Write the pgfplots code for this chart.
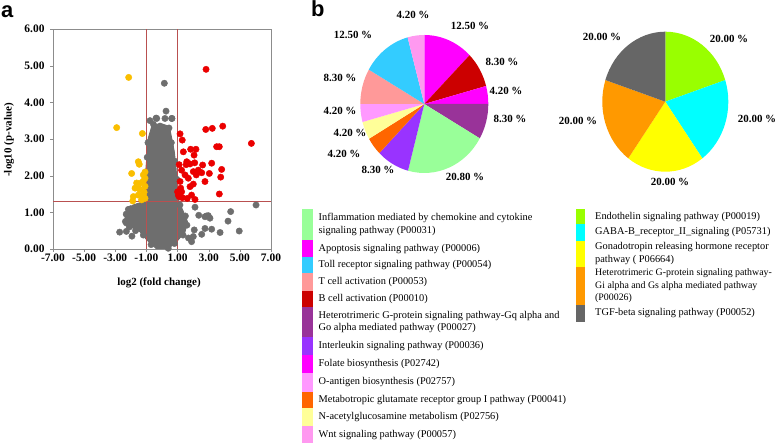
\documentclass[border=0pt]{standalone}
\usepackage{fontspec}
\setmainfont{Liberation Serif}
\newfontfamily\sansf{Liberation Sans}
\usepackage{pgfplots}
\pgfplotsset{compat=1.18}
\definecolor{cgray}{RGB}{110,110,110}
\definecolor{cred}{RGB}{235,0,0}
\definecolor{cyel}{RGB}{250,190,0}
\definecolor{cline}{RGB}{185,80,80}
\definecolor{cInfl}{RGB}{153,255,153}
\definecolor{cApop}{RGB}{255,0,255}
\definecolor{cToll}{RGB}{51,204,255}
\definecolor{cTcell}{RGB}{255,153,153}
\definecolor{cBcell}{RGB}{204,0,0}
\definecolor{cHetQ}{RGB}{153,51,153}
\definecolor{cIL}{RGB}{153,51,255}
\definecolor{cFol}{RGB}{255,0,255}
\definecolor{cOant}{RGB}{255,153,255}
\definecolor{cMeta}{RGB}{255,102,0}
\definecolor{cNac}{RGB}{255,255,153}
\definecolor{cWnt}{RGB}{255,153,240}
\definecolor{cEndo}{RGB}{153,255,0}
\definecolor{cGaba}{RGB}{0,255,255}
\definecolor{cGona}{RGB}{255,255,0}
\definecolor{cHetI}{RGB}{255,153,0}
\definecolor{cTgf}{RGB}{102,102,102}
\begin{document}
\begin{tikzpicture}[x=1bp,y=1bp]
\useasboundingbox (0,0) rectangle (778,445);
% ---------- panel a: volcano plot ----------
\begin{axis}[at={(53bp,196bp)}, anchor=south west, scale only axis,
  width=218bp, height=220bp,
  xmin=-7, xmax=7, ymin=0, ymax=6,
  xtick={-7,-5,-3,-1,1,3,5,7},
  xticklabels={-7.00,-5.00,-3.00,-1.00,1.00,3.00,5.00,7.00},
  ytick={0,1,2,3,4,5,6},
  yticklabels={0.00,1.00,2.00,3.00,4.00,5.00,6.00},
  tick align=outside, xtick pos=bottom, ytick pos=left,
  major tick length=3bp,
  axis line style={draw=gray!90}, tick style={draw=gray!90},
  ticklabel style={font=\bfseries\fontsize{11.5}{12}\selectfont},
  xticklabel style={yshift=2bp},
  yticklabel style={xshift=-2bp},
  clip=true]
\addplot[fill=cgray, draw=cgray, line width=1bp] coordinates {
(-0.02,-0.1) (0.30,-0.03) (0.94,0.2) (1.48,0.47) (1.63,0.75) (1.37,1.02)
(1.09,1.29) (0.98,1.75) (0.90,2.20) (0.79,2.65) (0.62,3.02) (0.47,3.34)
(-0.13,3.43) (-0.66,3.34) (-0.88,3.02) (-0.94,2.65) (-1.03,2.20) (-1.09,1.66)
(-1.20,1.29) (-1.84,1.20) (-2.27,1.06) (-2.38,0.84) (-2.06,0.61) (-1.41,0.47)
(-0.98,0.25) (-0.34,0.0)} -- cycle;
\addplot[only marks, mark=*, mark size=3.2bp, mark options={draw=cgray, fill=cgray}] coordinates {
(0.15,4.52) (0.26,3.76) (-0.38,3.57) (-0.77,3.50) (0.19,3.56) (0.64,3.56)
(-0.40,3.31) (-0.34,3.56) (0.62,3.56) (-0.55,3.40) (0.45,3.30)
(-0.9,2.9) (-0.95,2.5) (-1.0,2.0) (-1.6,1.15) (-2.0,1.1) (-2.3,0.95)
(-2.35,0.75) (-2.1,0.6) (-1.7,0.5) (-1.2,0.38) (-0.7,0.12)
(0.6,2.9) (0.54,2.79) (0.8,2.4) (0.95,1.9) (1.15,1.2) (1.5,0.9)
(1.6,0.65) (1.35,0.38) (0.8,0.15) (0.4,0.02)
(-2.16,1.08) (-2.29,0.71) (-2.72,0.46) (-2.29,0.48) (-1.93,0.35)
(6.04,1.20) (4.41,1.02) (4.24,0.76) (4.96,0.49) (3.73,0.45) (3.19,0.54)
(2.76,0.56) (2.55,0.40) (2.01,0.34) (2.07,0.52) (2.12,1.14) (2.76,0.88)
(3.08,0.84) (2.97,0.91) (2.85,0.90) (2.36,0.92) (1.9,0.2) (1.7,0.3)};
\addplot[only marks, mark=*, mark size=3.2bp, mark options={draw=cyel, fill=cyel}] coordinates {
(-2.14,4.68) (-2.91,3.31) (-1.26,3.15) (-1.52,2.38) (-1.46,2.31) (-1.95,2.06)
(-1.20,2.02) (-1.09,2.10) (-1.20,1.85) (-1.37,1.80) (-1.63,1.80) (-1.73,1.66)
(-1.41,1.62) (-1.09,1.71) (-1.52,1.47) (-1.20,1.47) (-1.84,1.43) (-1.31,1.34)
(-1.88,1.31) (-1.09,1.38) (-1.09,1.93) (-1.50,1.65) (-1.15,1.55)};
\addplot[only marks, mark=*, mark size=3.2bp, mark options={draw=cred, fill=cred}] coordinates {
(2.83,4.90) (2.81,3.26) (3.23,3.29) (3.90,3.35) (5.74,2.88) (1.16,3.14)
(1.30,2.97) (1.37,2.65) (1.84,2.72) (2.18,2.72) (2.06,2.56) (3.51,2.79)
(3.68,2.79) (1.59,2.38) (1.10,2.30) (1.80,2.32) (2.61,2.29) (3.19,2.34)
(3.83,2.17) (3.77,1.96) (3.04,2.06) (2.33,2.15) (2.55,2.08) (1.26,2.15)
(2.01,2.11) (1.48,2.02) (2.20,2.02) (1.69,1.93) (2.76,1.84) (1.16,1.84)
(2.01,1.77) (1.80,1.70) (1.20,1.66) (1.26,1.56) (3.68,1.50) (1.05,1.47)
(1.90,1.47) (1.62,1.38) (2.12,1.35) (1.10,1.43) (1.30,1.40) (1.00,1.56)
(1.55,2.30) (2.10,2.35)};
\addplot[cline, line width=0.8bp] coordinates {(-1,0) (-1,6)};
\addplot[cline, line width=0.8bp] coordinates {(1,0) (1,6)};
\addplot[cline, line width=0.8bp] coordinates {(-7,1.3) (7,1.3)};
\end{axis}
\node[rotate=90, font=\bfseries\fontsize{11}{12}\selectfont] at (9,305) {-log10 (p-value)};
\node[font=\bfseries\fontsize{11}{12}\selectfont] at (159,162) {log2 (fold change)};
\node[anchor=base west, inner sep=0pt, font=\sansf\bfseries\fontsize{22}{22}\selectfont] at (1,427) {a};
\node[anchor=base west, inner sep=0pt, font=\sansf\bfseries\fontsize{22}{22}\selectfont] at (311,428) {b};
% ---------- panel b: pie 1 ----------
\xdef\ang{90}
\foreach \p/\c in {12.5/cApop, 8.3/cBcell, 4.2/cFol, 8.3/cHetQ, 20.8/cInfl, 8.3/cIL,
                   4.2/cMeta, 4.2/cNac, 4.2/cOant, 8.3/cTcell, 12.5/cToll, 4.2/cWnt} {
  \pgfmathsetmacro{\endang}{\ang-3.6*\p}
  \fill[\c] (424.3,341) -- ++(\ang:64bp and 69bp) arc[start angle=\ang, end angle=\endang, x radius=64bp, y radius=69bp] -- cycle;
  \xdef\ang{\endang}
}
\begin{scope}[every node/.style={font=\bfseries\fontsize{11}{12}\selectfont, inner sep=0pt}]
\node at (413,430) {4.20 \%};
\node at (470,419) {12.50 \%};
\node at (502,383) {8.30 \%};
\node at (506,354) {4.20 \%};
\node at (510,326) {8.30 \%};
\node at (465,268) {20.80 \%};
\node at (378,275) {8.30 \%};
\node at (344,291) {4.20 \%};
\node at (350,312) {4.20 \%};
\node at (340,334) {4.20 \%};
\node at (340,367) {8.30 \%};
\node at (353,410) {12.50 \%};
\end{scope}
% ---------- pie 2 ----------
\xdef\ang{90}
\foreach \p/\c in {20/cEndo, 20/cGaba, 20/cGona, 20/cHetI, 20/cTgf} {
  \pgfmathsetmacro{\endang}{\ang-3.6*\p}
  \fill[\c] (665.3,343.3) -- ++(\ang:63bp and 70bp) arc[start angle=\ang, end angle=\endang, x radius=63bp, y radius=70bp] -- cycle;
  \xdef\ang{\endang}
}
\begin{scope}[every node/.style={font=\bfseries\fontsize{11}{12}\selectfont, inner sep=0pt}]
\node at (729,406) {20.00 \%};
\node at (757,326) {20.00 \%};
\node at (670,263) {20.00 \%};
\node at (578,324) {20.00 \%};
\node at (602,408) {20.00 \%};
\end{scope}
% ---------- legend 1 ----------
\begin{scope}[every node/.style={anchor=west, inner sep=0pt, align=left, font=\fontsize{10.4}{12.8}\selectfont}]
\fill[cInfl] (302,235.7) rectangle (313,205);
\node at (318.5,220.3) {Inflammation mediated by chemokine  and cytokine\\signaling  pathway (P00031)};
\fill[cApop] (302,205) rectangle (313,187.7);
\node at (318.5,196.3) {Apoptosis signaling pathway (P00006)};
\fill[cToll] (302,187.7) rectangle (313,171.7);
\node at (318.5,179.7) {Toll receptor signaling  pathway (P00054)};
\fill[cTcell] (302,171.7) rectangle (313,154.3);
\node at (318.5,163) {T cell  activation (P00053)};
\fill[cBcell] (302,154.3) rectangle (313,137.7);
\node at (318.5,146) {B cell activation  (P00010)};
\fill[cHetQ] (302,137.7) rectangle (313,108.3);
\node at (318.5,123) {Heterotrimeric G-protein signaling pathway-Gq alpha and\\Go alpha mediated pathway (P00027)};
\fill[cIL] (302,108.3) rectangle (313,90);
\node at (318.5,99.2) {Interleukin  signaling  pathway (P00036)};
\fill[cFol] (302,90) rectangle (313,71.7);
\node at (318.5,80.8) {Folate biosynthesis (P02742)};
\fill[cOant] (302,71.7) rectangle (313,53.3);
\node at (318.5,62.5) {O-antigen  biosynthesis (P02757)};
\fill[cMeta] (302,53.3) rectangle (313,36.7);
\node at (318.5,45) {Metabotropic glutamate receptor group I pathway (P00041)};
\fill[cNac] (302,36.7) rectangle (313,19);
\node at (318.5,27.8) {N-acetylglucosamine  metabolism  (P02756)};
\fill[cWnt] (302,19) rectangle (313,1.7);
\node at (318.5,10.3) {Wnt signaling  pathway (P00057)};
% ---------- legend 2 ----------
\fill[cEndo] (576,235.7) rectangle (585,221);
\node at (595,228.3) {Endothelin signaling  pathway (P00019)};
\fill[cGaba] (576,221) rectangle (585,204.3);
\node at (595,212.7) {GABA-B\_receptor\_II\_signaling  (P05731)};
\fill[cGona] (576,204.3) rectangle (585,178.3);
\node at (595,191.3) {Gonadotropin releasing  hormone receptor\\pathway ( P06664)};
\fill[cHetI] (576,178.3) rectangle (585,140);
\node[font=\fontsize{9.9}{12.3}\selectfont] at (595,159.2) {Heterotrimeric G-protein signaling pathway-\\Gi alpha and Gs alpha mediated pathway\\(P00026)};
\fill[cTgf] (576,140) rectangle (585,123.3);
\node at (595,131.7) {TGF-beta signaling  pathway (P00052)};
\end{scope}
\end{tikzpicture}
\end{document}
